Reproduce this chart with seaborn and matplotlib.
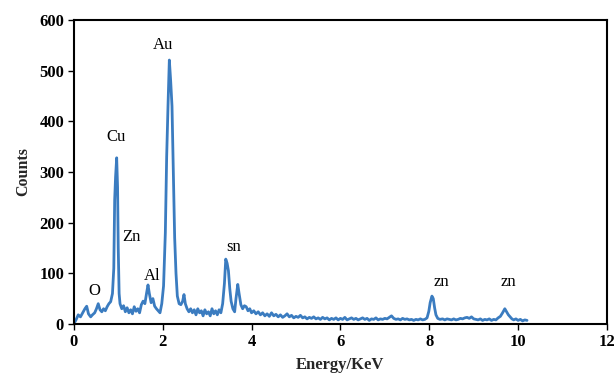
import numpy as np
import pandas as pd
import matplotlib
matplotlib.use("Agg")
import matplotlib.pyplot as plt
import seaborn as sns

energy = [0.00, 0.05, 0.10, 0.15, 0.20, 0.25, 0.29, 0.33, 0.38, 0.42, 0.47, 0.51, 0.55, 0.59, 0.63, 0.67,
          0.71, 0.75, 0.79, 0.83, 0.87, 0.90, 0.92, 0.94, 0.965, 0.985, 1.00, 1.02, 1.04, 1.08, 1.12, 1.16,
          1.20, 1.24, 1.28, 1.32, 1.36, 1.40, 1.44, 1.48, 1.52, 1.56, 1.60, 1.64, 1.67, 1.70, 1.74, 1.78,
          1.82, 1.86, 1.90, 1.94, 1.98, 2.02, 2.06, 2.09, 2.12, 2.15, 2.18, 2.21, 2.24, 2.27, 2.30, 2.33,
          2.37, 2.41, 2.45, 2.48, 2.51, 2.55, 2.59, 2.63, 2.67, 2.71, 2.75, 2.79, 2.83, 2.87, 2.91, 2.95,
          2.99, 3.03, 3.07, 3.11, 3.15, 3.19, 3.23, 3.27, 3.31, 3.35, 3.39, 3.42, 3.45, 3.48, 3.51, 3.54,
          3.58, 3.62, 3.65, 3.69, 3.72, 3.76, 3.80, 3.84, 3.88, 3.92, 3.96, 4.00, 4.05, 4.10, 4.15, 4.20,
          4.25, 4.30, 4.35, 4.40, 4.45, 4.50, 4.55, 4.60, 4.65, 4.70, 4.75, 4.80, 4.85, 4.90, 4.95, 5.00,
          5.05, 5.10, 5.15, 5.20, 5.25, 5.30, 5.35, 5.40, 5.45, 5.50, 5.55, 5.60, 5.65, 5.70, 5.75, 5.80,
          5.85, 5.90, 5.95, 6.00, 6.05, 6.10, 6.15, 6.20, 6.25, 6.30, 6.35, 6.40, 6.45, 6.50, 6.55, 6.60,
          6.65, 6.70, 6.75, 6.80, 6.85, 6.90, 6.95, 7.00, 7.05, 7.10, 7.15, 7.20, 7.25, 7.30, 7.35, 7.40,
          7.45, 7.50, 7.55, 7.60, 7.65, 7.70, 7.75, 7.80, 7.85, 7.90, 7.95, 7.99, 8.02, 8.06, 8.09, 8.12,
          8.15, 8.19, 8.24, 8.30, 8.35, 8.40, 8.45, 8.50, 8.55, 8.60, 8.65, 8.70, 8.75, 8.80, 8.85, 8.90,
          8.95, 9.00, 9.05, 9.10, 9.15, 9.20, 9.25, 9.30, 9.35, 9.40, 9.45, 9.50, 9.55, 9.60, 9.65, 9.70,
          9.74, 9.78, 9.82, 9.86, 9.90, 9.95, 10.00, 10.05, 10.10, 10.15, 10.20]

counts = [0, 8, 18, 14, 22, 30, 35, 20, 14, 18, 22, 30, 40, 28, 24, 30,
          26, 34, 40, 44, 60, 110, 245, 290, 328, 270, 150, 60, 40, 30, 36, 24,
          32, 22, 28, 20, 34, 25, 30, 22, 38, 45, 40, 62, 77, 60, 42, 50,
          35, 30, 26, 22, 40, 75, 180, 330, 430, 521, 480, 430, 300, 170, 100, 55,
          40, 38, 45, 58, 40, 30, 24, 30, 22, 28, 18, 30, 22, 26, 16, 28,
          20, 24, 16, 30, 20, 26, 18, 28, 22, 40, 80, 128, 120, 105, 70, 45,
          30, 24, 50, 78, 60, 38, 30, 36, 34, 26, 30, 22, 26, 20, 24, 18,
          22, 16, 20, 15, 22, 16, 19, 14, 18, 13, 16, 20, 14, 17, 12, 15,
          13, 17, 12, 14, 10, 13, 11, 14, 10, 12, 9, 13, 10, 12, 8, 11,
          9, 12, 8, 11, 9, 13, 8, 10, 12, 9, 11, 8, 10, 12, 9, 11,
          7, 10, 9, 12, 8, 10, 9, 11, 10, 13, 16, 11, 9, 10, 8, 11,
          9, 10, 8, 9, 7, 9, 8, 10, 8, 9, 12, 25, 42, 55, 50, 32,
          18, 11, 9, 10, 8, 10, 9, 8, 10, 8, 9, 11, 10, 12, 13, 11,
          14, 10, 9, 8, 10, 7, 9, 8, 10, 7, 9, 8, 12, 15, 22, 30,
          24, 18, 14, 10, 8, 10, 7, 9, 6, 8, 7]

peak_labels = ["Au", "Cu", "Zn", "Al", "O", "sn", "zn", "zn"]
label_x = [2.00, 0.95, 1.30, 1.76, 0.47, 3.60, 8.28, 9.79]
label_y = [550, 369, 172, 95, 65, 152, 83, 83]

x_ticks = [0, 2, 4, 6, 8, 10, 12]
y_ticks = [0, 100, 200, 300, 400, 500, 600]

df = pd.DataFrame({"Energy": energy, "Counts": counts})

sns.set_theme(style="white")
plt.rcParams["font.family"] = ["Liberation Serif", "DejaVu Serif"]

fig = plt.figure(figsize=(6.15, 3.78), dpi=100)
ax = fig.add_axes([0.120, 0.143, 0.867, 0.804])

sns.lineplot(data=df, x="Energy", y="Counts", ax=ax, color="#3b7cc0",
             linewidth=2.0, estimator=None, sort=False)

for t, x, y in zip(peak_labels, label_x, label_y):
    ax.text(x, y, t, ha="center", va="center", fontsize=12, color="black")

ax.set_xlim(0, 12)
ax.set_ylim(0, 600)
ax.set_xticks(x_ticks)
ax.set_yticks(y_ticks)
ax.set_xticklabels([str(v) for v in x_ticks], fontweight="bold", fontsize=12)
ax.set_yticklabels([str(v) for v in y_ticks], fontweight="bold", fontsize=12)
ax.set_xlabel("Energy/KeV", fontweight="bold", fontsize=12, labelpad=5)
ax.set_ylabel("Counts", fontweight="bold", fontsize=11.5, labelpad=6)

for s in ax.spines.values():
    s.set_visible(True)
    s.set_color("black")
    s.set_linewidth(1.5)
ax.tick_params(axis="both", direction="out", length=4, width=1, color="black",
               bottom=True, left=True, pad=3, labelcolor="black")

fig.savefig("out.png", dpi=100)
